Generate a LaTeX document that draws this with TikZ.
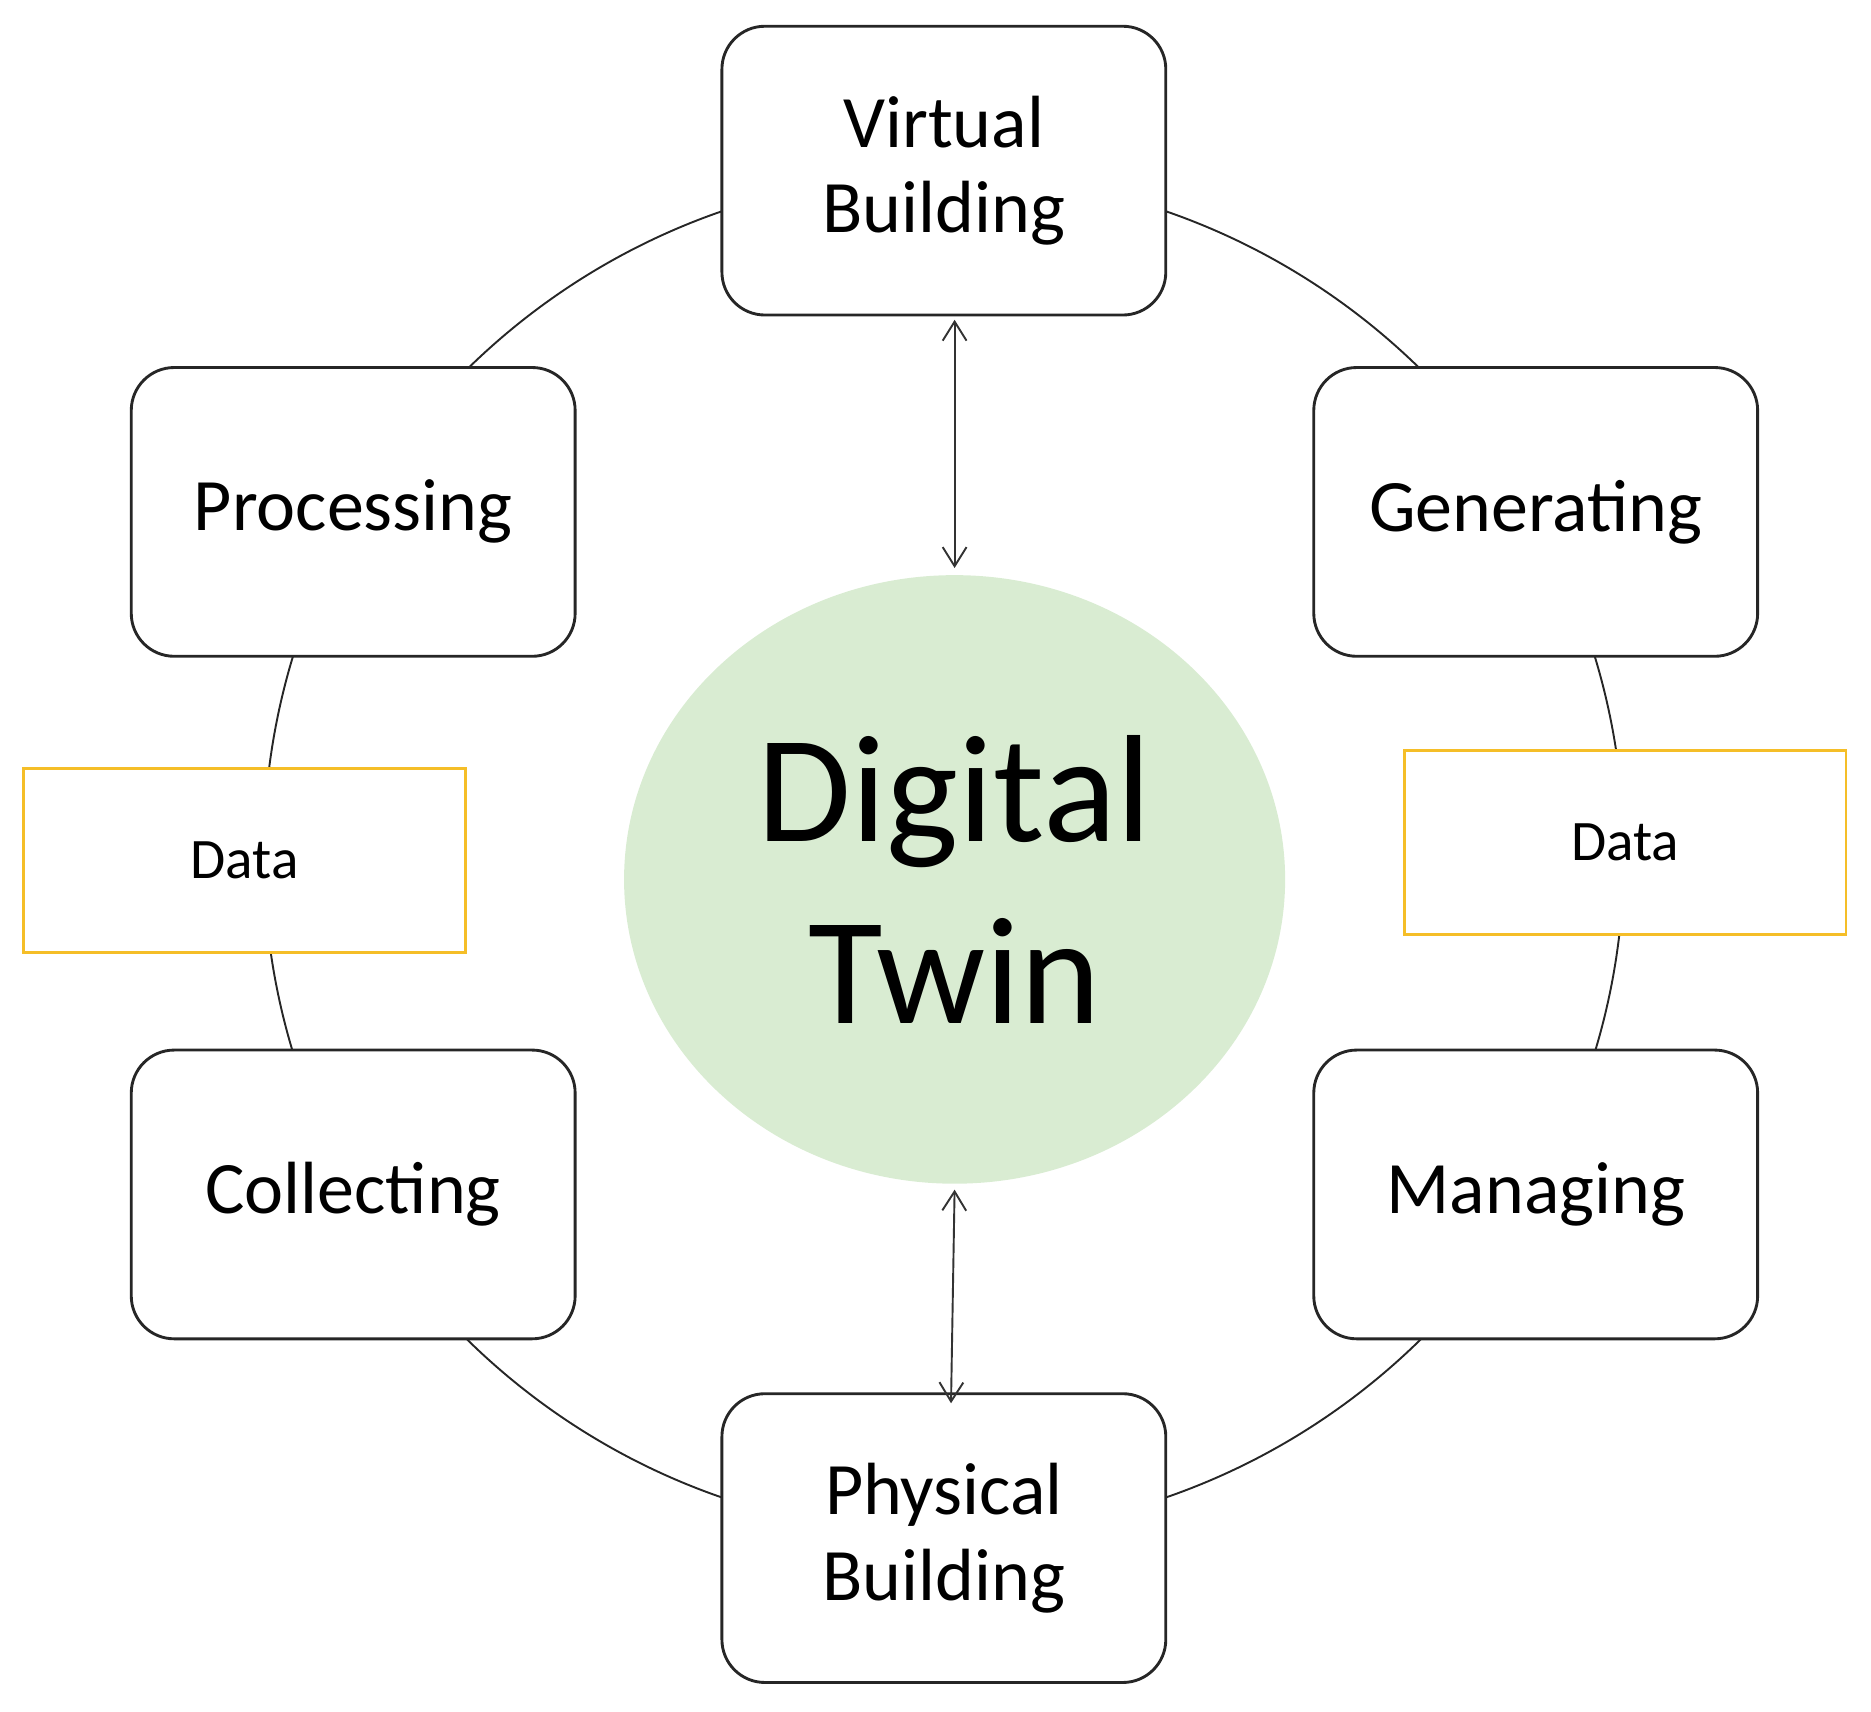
\documentclass[tikz,border=0pt]{standalone}
\usepackage{fontspec}
\setmainfont{Carlito}
\usetikzlibrary{arrows.meta,shapes.geometric}
\begin{document}
\begin{tikzpicture}[x=0.5pt,y=-0.5pt,
 box/.style={draw=black!85,line width=1.2pt,fill=white,rounded corners=18pt,minimum width=186pt,minimum height=121pt,align=center,font=\fontsize{31}{36}\selectfont,inner sep=0pt},
 dbox/.style={draw={rgb,255:red,245;green,190;blue,40},line width=1.2pt,fill=white,minimum width=185pt,minimum height=77pt,font=\fontsize{24}{28}\selectfont},
 arr/.style={{Straight Barb[length=8pt,width=10pt]}-{Straight Barb[length=8pt,width=10pt]},line width=0.8pt,black!80}]
\useasboundingbox (0,0) rectangle (1568,1434);
\draw[line width=0.8pt,black!85] (791,716) circle[radius=570];
\node[box] (vb) at (791,143) {Virtual\\Building};
\node[box] (pr) at (296,429) {Processing};
\node[box] (ge) at (1287,429) {Generating};
\node[box] (co) at (296,1001) {Collecting};
\node[box] (ma) at (1287,1001) {Managing};
\node[box] (pb) at (791,1289) {Physical\\Building};
\node[dbox] (dl) at (205,721) {Data};
\node[dbox] (dr) at (1362,706) {Data};
\node[ellipse,fill={rgb,255:red,217;green,236;blue,210},minimum width=277pt,minimum height=255pt,inner sep=0pt,align=center,font=\fontsize{64}{76}\selectfont] (dt) at (800,737) {Digital\\Twin};
\coordinate (a1) at (800,268); \coordinate (a2) at (800,476);
\coordinate (b1) at (800,997); \coordinate (b2) at (797,1176);
\draw[arr] (a1) -- (a2);
\draw[arr] (b1) -- (b2);
\end{tikzpicture}
\end{document}
